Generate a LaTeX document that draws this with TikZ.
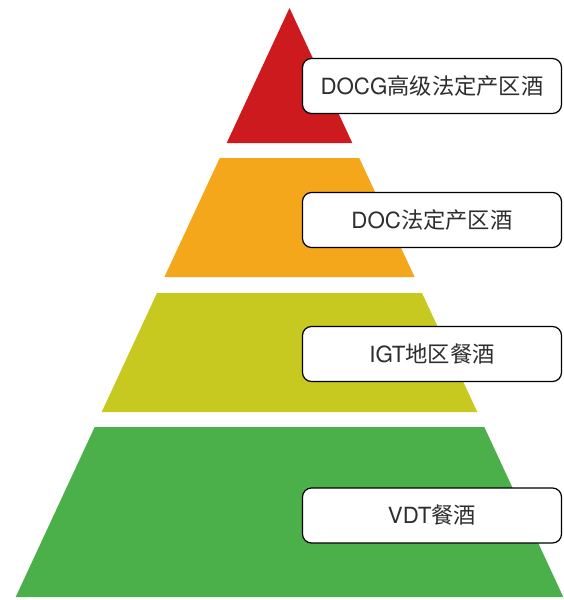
\documentclass[tikz,border=0pt]{standalone}
\usepackage{fontspec}
\setmainfont{TeX Gyre Heros}
\newfontfamily\cjk{Noto Sans CJK SC}
\definecolor{cred}{HTML}{CC1A1E}
\definecolor{corange}{HTML}{F4A71A}
\definecolor{cyellow}{HTML}{C7C920}
\definecolor{cgreen}{HTML}{4BAF4A}
\definecolor{ctext}{HTML}{2E2E2E}
\tikzset{
  labelbox/.style={draw=black, line width=1.2pt, fill=white, rounded corners=9pt,
    minimum width=259pt, minimum height=55pt, inner sep=0pt,
    font=\fontsize{22.3}{26}\selectfont, text=ctext}
}
\begin{document}
\begin{tikzpicture}[x=1pt,y=-1pt]
\useasboundingbox (0,0) rectangle (563,600);
% half width = 0.465*(y-8), center 289.5
\fill[cred]    (289.5,8) -- (352.3,143) -- (226.7,143) -- cycle;
\fill[corange] (219.75,158) -- (359.25,158) -- (414.6,277) -- (164.4,277) -- cycle;
\fill[cyellow] (157.0,293) -- (422.0,293) -- (477.3,412) -- (101.7,412) -- cycle;
\fill[cgreen]  (94.7,427) -- (484.3,427) -- (563.3,597) -- (15.7,597) -- cycle;
\node[labelbox] (l1) at (432,86)  {DOCG{\cjk 高级法定产区酒}};
\node[labelbox] (l2) at (432,220) {DOC{\cjk 法定产区酒}};
\node[labelbox] (l3) at (432,354) {IGT{\cjk 地区餐酒}};
\node[labelbox] (l4) at (432,515.5) {VDT{\cjk 餐酒}};
\end{tikzpicture}
\end{document}
